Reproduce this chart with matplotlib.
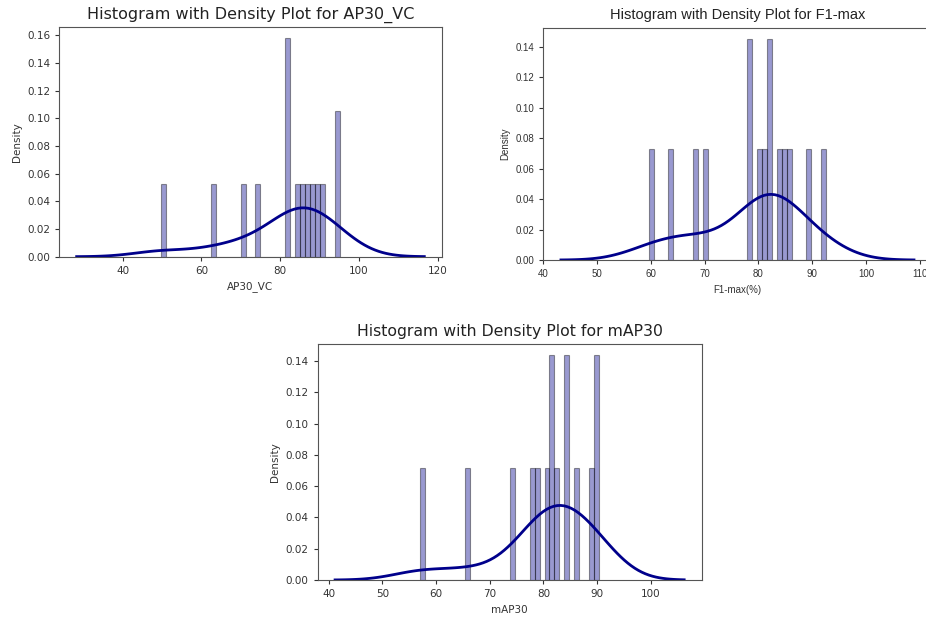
import numpy as np
import matplotlib.pyplot as plt

# sample values (15 runs each)
ap30_vc = [49.7, 62.8, 70.3, 74.1, 81.6, 81.6, 81.6, 84.1, 85.3,
           86.6, 87.8, 89.1, 90.3, 94.0, 95.2]
f1_max = [59.6, 63.6, 68.2, 70.1, 78.4, 78.4, 80.2, 81.1, 82.0,
          82.0, 83.9, 84.8, 85.7, 89.4, 92.6]
map30 = [57.0, 65.9, 74.3, 77.7, 78.6, 80.6, 81.6, 81.6, 82.5,
         84.4, 84.4, 86.3, 89.1, 90.0, 90.4]

BLUE = 'darkblue'
N_BINS = int(180 / 5)


def gauss_kde(x, gridsize=100, cut=3):
    x = np.asarray(x, dtype=float)
    bw = x.std(ddof=1) * len(x) ** (-1 / 5)   # scott
    grid = np.linspace(x.min() - cut * bw, x.max() + cut * bw, gridsize)
    z = (grid[:, None] - x[None, :]) / bw
    dens = np.exp(-0.5 * z ** 2).sum(axis=1) / (len(x) * bw * np.sqrt(2 * np.pi))
    return grid, dens


def hist_density(ax, data, title, xlabel, family, fs_title, fs_tick):
    ax.hist(data, bins=N_BINS, density=True, color=BLUE, alpha=0.4,
            edgecolor='black', linewidth=0.8)
    gx, gy = gauss_kde(data)
    ax.plot(gx, gy, color=BLUE, linewidth=2)
    ax.set_title(title, fontsize=fs_title, family=family, color='#222222')
    ax.set_xlabel(xlabel, fontsize=fs_tick, family=family, color='#333333')
    ax.set_ylabel('Density', fontsize=fs_tick, family=family, color='#333333')
    ax.tick_params(labelsize=fs_tick, colors='#333333', length=3)
    for lab in ax.get_xticklabels() + ax.get_yticklabels():
        lab.set_family(family)
    for s in ax.spines.values():
        s.set_color('#555555')


fig = plt.figure(figsize=(9.26, 6.2), dpi=100)

ax1 = fig.add_axes([0.064, 0.586, 0.413, 0.371])
hist_density(ax1, ap30_vc, 'Histogram with Density Plot for AP30_VC', 'AP30_VC',
             'DejaVu Sans', 11.5, 7.5)

ax2 = fig.add_axes([0.5867, 0.5806, 0.4194, 0.3747])
hist_density(ax2, f1_max, 'Histogram with Density Plot for F1-max', 'F1-max(%)',
             'Liberation Sans', 10.5, 7)

ax3 = fig.add_axes([0.343, 0.0645, 0.4147, 0.3806])
hist_density(ax3, map30, 'Histogram with Density Plot for mAP30', 'mAP30',
             'DejaVu Sans', 11.3, 7.5)

fig.savefig('out.png', dpi=100)
